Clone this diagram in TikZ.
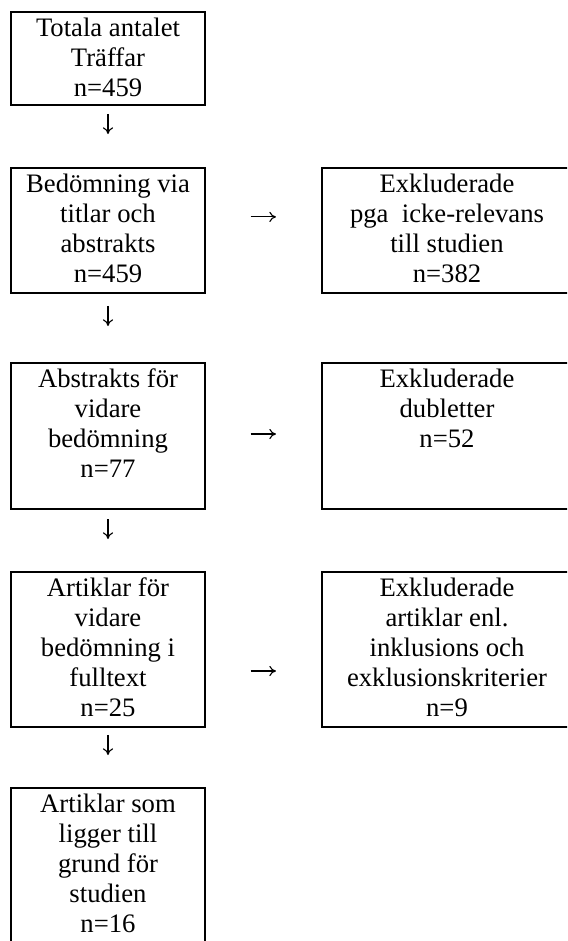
\documentclass[tikz,border=0pt]{standalone}
\usepackage{fontspec}
\setmainfont{Liberation Serif}
\usetikzlibrary{arrows.meta}
\newcommand\Rader[1]{\begin{tabular}[t]{@{}c@{}}#1\end{tabular}}
\tikzset{
  FlowBox/.style={draw,line width=0.9pt,inner sep=0pt,outer sep=0pt,anchor=north,
    text height=11.1pt,font=\fontsize{12}{13.5}\selectfont},
  LeftBox/.style={FlowBox,minimum width=86.85pt},
  RightBox/.style={FlowBox,minimum width=112.5pt},
  FlowArrow/.style={->,line width=0.5pt}
}

\begin{document}
\begin{tikzpicture}[x=0.45pt,y=-0.45pt,>={To[length=3pt,width=4.6pt]}]
  \useasboundingbox (0,0) rectangle (567,941);
  \clip (0,0) rectangle (567,941);
  \node[LeftBox,text depth=30.7pt] (tot) at (108,12) {\Rader{Totala antalet\\Träffar\\n=459}};
  \node[LeftBox,text depth=45.1pt] (bed) at (108,168) {\Rader{Bedömning via\\titlar och\\abstrakts\\n=459}};
  \node[LeftBox,text depth=54.6pt] (abs) at (108,363) {\Rader{Abstrakts för\\vidare\\bedömning\\n=77}};
  \node[LeftBox,text depth=58.6pt] (art) at (108,572) {\Rader{Artiklar för\\vidare\\bedömning i\\fulltext\\n=25}};
  \node[LeftBox,text depth=60.9pt] (stud) at (108,788) {\Rader{Artiklar som\\ligger till\\grund för\\studien\\n=16}};
  \node[RightBox,text depth=45.1pt] (exkA) at (447,168) {\Rader{Exkluderade\\pga\ \ icke-relevans\\till studien\\n=382}};
  \node[RightBox,text depth=54.6pt] (exkB) at (447,363) {\Rader{Exkluderade\\dubletter\\n=52}};
  \node[RightBox,text depth=58.6pt] (exkC) at (447,572) {\Rader{Exkluderade\\artiklar enl.\\inklusions och\\exklusionskriterier\\n=9}};
  \draw[FlowArrow,shorten <=4.05pt,shorten >=15.3pt] (tot) -- (bed);
  \draw[FlowArrow,shorten <=5.85pt,shorten >=16.65pt] (bed) -- (abs);
  \draw[FlowArrow,shorten <=4.5pt,shorten >=14.85pt] (abs) -- (art);
  \draw[FlowArrow,shorten <=3.6pt,shorten >=14.85pt] (art) -- (stud);
  \draw[FlowArrow,shorten <=20.7pt,shorten >=20.7pt] ([yshift=6.1pt]bed.east) -- ([yshift=6.1pt]exkA.west);
  \draw[FlowArrow,shorten <=20.7pt,shorten >=20.7pt] ([yshift=0.9pt]abs.east) -- ([yshift=0.9pt]exkB.west);
  \draw[FlowArrow,shorten <=20.7pt,shorten >=20.7pt] ([yshift=-9.7pt]art.east) -- ([yshift=-9.7pt]exkC.west);
\end{tikzpicture}
\end{document}
